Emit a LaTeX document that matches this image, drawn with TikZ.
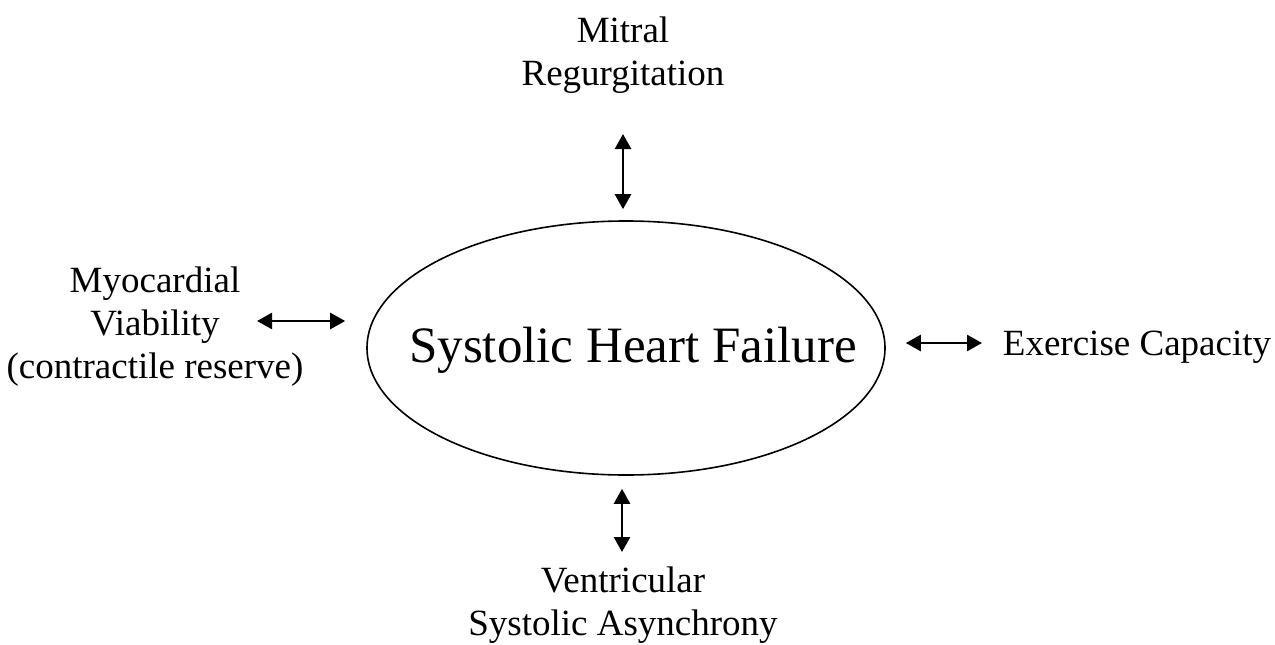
\documentclass[tikz,border=0pt]{standalone}
\usepackage{fontspec}
\setmainfont{Liberation Serif}
\usetikzlibrary{shapes.geometric,arrows.meta,calc}
\begin{document}
\begin{tikzpicture}[x=1pt,y=-1pt,
  lbl/.style={align=center,inner sep=0pt,font=\fontsize{37}{43}\selectfont},
  biarrow/.style={line width=2.5pt,{Triangle[length=15pt,width=16pt]}-{Triangle[length=15pt,width=16pt]}}]
\path[use as bounding box] (0,0) rectangle (1275,645);
\node[ellipse,draw,line width=1.6pt,minimum width=518pt,minimum height=254pt,inner sep=0pt] (ell) at (626,348) {};
\node[inner sep=0pt,font=\fontsize{51}{60}\selectfont] (shf) at (633,350) {Systolic Heart Failure};
\node[lbl] (mitral) at (623,55) {Mitral\\Regurgitation};
\node[lbl] (myo) at (155,327) {Myocardial\\Viability\\(contractile reserve)};
\node[lbl] (ex) at (1137,347) {Exercise Capacity};
\node[lbl] (vent) at (623,605) {Ventricular\\Systolic Asynchrony};
\coordinate (ta) at (623,134);
\coordinate (la) at (257,321);
\coordinate (ra) at (982,343);
\coordinate (ba) at (622,552);
\draw[biarrow,shorten >=11pt] (ta) -- (ta |- ell.north);
\draw[biarrow,shorten >=21pt] (la) -- (la -| ell.west);
\draw[biarrow,shorten >=20pt] (ra) -- (ra -| ell.east);
\draw[biarrow,shorten >=13pt] (ba) -- (ba |- ell.south);
\end{tikzpicture}
\end{document}
